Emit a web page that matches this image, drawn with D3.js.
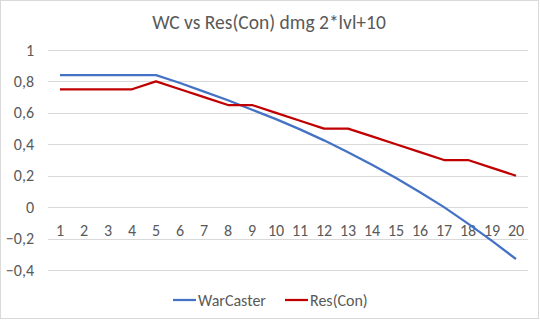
<!DOCTYPE html>
<html>
<head>
<meta charset="utf-8">
<script src="https://cdn.jsdelivr.net/npm/d3@7"></script>
<style>
  body { margin: 0; background: #fff; }
  svg { font-family: Carlito, "Open Sans", "Liberation Sans", sans-serif; }
</style>
</head>
<body>
<div id="chart"></div>
<script>
// levels on the x axis
const levels = d3.range(1, 21);
// series values
const warCaster = [0.84, 0.84, 0.84, 0.84, 0.84, 0.79, 0.735, 0.68, 0.62, 0.56,
                   0.495, 0.425, 0.35, 0.27, 0.185, 0.095, 0.00, -0.105, -0.215, -0.33];
const resCon = [0.75, 0.75, 0.75, 0.75, 0.80, 0.75, 0.70, 0.65, 0.65, 0.60,
                0.55, 0.50, 0.50, 0.45, 0.40, 0.35, 0.30, 0.30, 0.25, 0.20];
const yTicks = [-0.4, -0.2, 0, 0.2, 0.4, 0.6, 0.8, 1];
const seriesNames = ["WarCaster", "Res(Con)"];
const seriesColors = ["#4472C4", "#C00000"];

const width = 540, height = 321;
const margin = {top: 50, right: 12, bottom: 51, left: 48};

const svg = d3.select("#chart").append("svg")
  .attr("width", width)
  .attr("height", height);

// chart border
svg.append("rect")
  .attr("x", 0.5).attr("y", 0.5)
  .attr("width", 538).attr("height", 318)
  .attr("fill", "#fff")
  .attr("stroke", "#d9d9d9");

svg.append("text")
  .attr("x", 269).attr("y", 29)
  .attr("text-anchor", "middle")
  .attr("fill", "#595959")
  .style("font-size", "19.5px")
  .text("WC vs Res(Con) dmg 2*lvl+10");

const x = d3.scaleBand()
  .domain(levels)
  .range([margin.left, width - margin.right]);

const y = d3.scaleLinear()
  .domain([-0.4, 1])
  .range([height - margin.bottom, margin.top]);

const fmt = d => d === 0 ? "0" : d3.format(".1f")(d).replace(".", ",").replace(/^1,0$/, "1");

// gridlines
svg.append("g")
  .selectAll("line")
  .data(yTicks)
  .join("line")
    .attr("x1", margin.left)
    .attr("x2", width - margin.right)
    .attr("y1", d => Math.round(y(d)) + 0.5)
    .attr("y2", d => Math.round(y(d)) + 0.5)
    .attr("stroke", "#d9d9d9")
    .attr("stroke-width", 1);

// y labels
svg.append("g")
  .selectAll("text")
  .data(yTicks)
  .join("text")
    .attr("x", 34)
    .attr("y", d => y(d))
    .attr("dy", "0.35em")
    .attr("text-anchor", "end")
    .attr("fill", "#595959")
    .style("font-size", "16px")
    .text(fmt);

// x labels just below the zero line
svg.append("g")
  .selectAll("text")
  .data(levels)
  .join("text")
    .attr("x", d => x(d) + x.bandwidth() / 2)
    .attr("y", y(0) + 23)
    .attr("dy", "0.35em")
    .attr("text-anchor", "middle")
    .attr("fill", "#595959")
    .style("font-size", "16px")
    .text(d => d);

const line = d3.line()
  .x((d, i) => x(levels[i]) + x.bandwidth() / 2)
  .y(d => y(d));

[warCaster, resCon].forEach((s, i) => {
  svg.append("path")
    .datum(s)
    .attr("fill", "none")
    .attr("stroke", seriesColors[i])
    .attr("stroke-width", 2.25)
    .attr("stroke-linejoin", "round")
    .attr("d", line);
});

// legend
const legendX = [173, 285];
const legend = svg.append("g");
seriesNames.forEach((name, i) => {
  legend.append("line")
    .attr("x1", legendX[i]).attr("x2", legendX[i] + 23)
    .attr("y1", 300).attr("y2", 300)
    .attr("stroke", seriesColors[i])
    .attr("stroke-width", 2.25);
  legend.append("text")
    .attr("x", legendX[i] + 25)
    .attr("y", 300)
    .attr("dy", "0.35em")
    .attr("fill", "#595959")
    .style("font-size", "16px")
    .text(name);
});
</script>
</body>
</html>
